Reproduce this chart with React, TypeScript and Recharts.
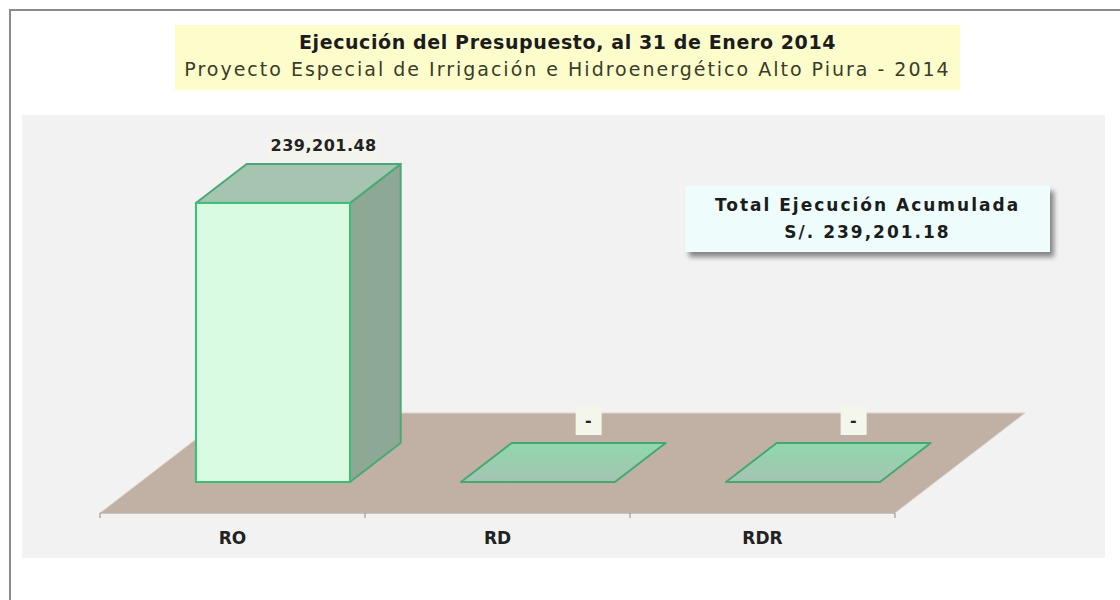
import React from 'react';
import { BarChart, Bar, XAxis, YAxis, LabelList, ReferenceArea } from 'recharts';

// budget execution by funding source
const categories = ['RO', 'RD', 'RDR'];
const executed = [239201.48, 0, 0];
const valueDomain = [0, 300000];

const title = 'Ejecución del Presupuesto, al 31 de Enero 2014';
const subtitle = 'Proyecto Especial de Irrigación e Hidroenergético Alto Piura - 2014';
const totalLines = ['Total Ejecución Acumulada', 'S/. 239,201.18'];

const data = categories.map((name, i) => ({ name, value: executed[i] }));

const FONT = '"DejaVu Sans", Verdana, sans-serif';
// 3D projection of the floor depth
const FLOOR_DX = 130;
const FLOOR_DY = 100;
const BAR_FRONT = 0.31;
const BAR_BACK = 0.7;

const fmt = (v: number) =>
  v === 0 ? '-' : v.toLocaleString('en-US', { minimumFractionDigits: 2, maximumFractionDigits: 2 });

const Floor = (props: any) => {
  const { x, y, width, height } = props;
  const yb = y + height;
  const n = categories.length;
  const pts = `${x},${yb} ${x + width},${yb} ${x + width + FLOOR_DX},${yb - FLOOR_DY} ${x + FLOOR_DX},${yb - FLOOR_DY}`;
  return (
    <g>
      <polygon points={pts} fill="#c1b1a4" stroke="#ddd5cc" strokeWidth={1} />
      <line x1={x} y1={yb} x2={x + width} y2={yb} stroke="#a9a29c" strokeWidth={1} />
      {Array.from({ length: n + 1 }).map((_, i) => (
        <line key={i} x1={x + (i * width) / n} y1={yb} x2={x + (i * width) / n} y2={yb + 5} stroke="#8c8c8c" strokeWidth={1} />
      ))}
    </g>
  );
};

const Bar3D = (props: any) => {
  const { x, y, width, height, index } = props;
  const fx = FLOOR_DX * BAR_FRONT;
  const fy = FLOOR_DY * BAR_FRONT;
  const dx = FLOOR_DX * (BAR_BACK - BAR_FRONT);
  const dy = FLOOR_DY * (BAR_BACK - BAR_FRONT);
  const x0 = x + fx;
  const x1 = x0 + width;
  const yt = y - fy;
  const yb = y + height - fy;
  const top = `${x0},${yt} ${x1},${yt} ${x1 + dx},${yt - dy} ${x0 + dx},${yt - dy}`;
  if (height < 1) {
    const gid = `flat-${index}`;
    return (
      <g>
        <defs>
          <linearGradient id={gid} x1="0" y1="0" x2="0" y2="1">
            <stop offset="0%" stopColor="#8fd8ac" />
            <stop offset="100%" stopColor="#a5c3b3" />
          </linearGradient>
        </defs>
        <polygon points={top} fill={`url(#${gid})`} stroke="#45a872" strokeWidth={2} strokeLinejoin="round" />
      </g>
    );
  }
  const side = `${x1},${yt} ${x1 + dx},${yt - dy} ${x1 + dx},${yb - dy} ${x1},${yb}`;
  return (
    <g>
      <polygon points={side} fill="#8da895" stroke="#4aa877" strokeWidth={2} strokeLinejoin="round" />
      <polygon points={top} fill="#a6c5b0" stroke="#4aa877" strokeWidth={2} strokeLinejoin="round" />
      <rect x={x0} y={yt} width={width} height={height} fill="#d9fbe1" stroke="#3bbd77" strokeWidth={2} />
    </g>
  );
};

const ValueLabel = (props: any) => {
  const { x, y, width, value } = props;
  const cx = x + width / 2 + FLOOR_DX * BAR_BACK;
  const cy = y - FLOOR_DY * BAR_BACK - (value === 0 ? 23 : 18);
  const text = fmt(value);
  const bw = value === 0 ? 26 : 112;
  return (
    <g>
      <rect x={cx - bw / 2} y={cy - 14} width={bw} height={29} fill="#f3f6ea" opacity={value === 0 ? 1 : 0.5} />
      <text x={cx} y={cy} textAnchor="middle" dominantBaseline="central" fontFamily={FONT} fontWeight="bold" fontSize={16} letterSpacing={0.5} fill="#222">
        {text}
      </text>
    </g>
  );
};

export default function App() {
  return (
    <div style={{ position: 'absolute', left: 0, top: 0, width: 1120, height: 600, background: '#fff', overflow: 'hidden', fontFamily: FONT }}>
      <div style={{ position: 'absolute', left: 9, top: 9, width: 1200, height: 700, borderLeft: '2px solid #8c8c8c', borderTop: '2px solid #8c8c8c' }} />
      <div style={{ position: 'absolute', left: 22, top: 115, width: 1083, height: 443, background: '#f2f2f2' }} />
      <div style={{ position: 'absolute', left: 175, top: 25, width: 785, height: 65, background: '#fdfdcc', textAlign: 'center', whiteSpace: 'nowrap' }}>
        <div style={{ marginTop: 6, fontSize: 19, lineHeight: '23px', letterSpacing: 0.6, fontWeight: 'bold', color: '#1c1c1c' }}>{title}</div>
        <div style={{ marginTop: 3, fontSize: 19, lineHeight: '24px', letterSpacing: 2, color: '#3b3b2a' }}>{subtitle}</div>
      </div>
      <div style={{ position: 'absolute', left: 0, top: 0 }}>
        <BarChart width={1120} height={600} data={data} margin={{ top: 163, right: 225, bottom: 57, left: 100 }} barCategoryGap="21%">
          <XAxis dataKey="name" axisLine={false} tickLine={false} tickSize={0} tickMargin={19} height={30}
            tick={{ fontFamily: FONT, fontWeight: 'bold', fontSize: 17, fill: '#222' }} />
          <YAxis hide domain={valueDomain} />
          <ReferenceArea x1="RO" x2="RDR" y1={valueDomain[0]} y2={valueDomain[1]} shape={Floor} fill="none" />
          <Bar dataKey="value" shape={Bar3D} isAnimationActive={false}>
            <LabelList dataKey="value" content={ValueLabel} />
          </Bar>
        </BarChart>
      </div>
      <div style={{ position: 'absolute', left: 685, top: 186, width: 365, height: 66, background: '#effcfc', boxShadow: '4px 5px 5px rgba(0,0,0,0.45)', textAlign: 'center', fontWeight: 'bold', fontSize: 17, letterSpacing: 2, lineHeight: '22px', color: '#1c1c1c', whiteSpace: 'nowrap' }}>
        <div style={{ marginTop: 8 }}>{totalLines[0]}</div>
        <div style={{ marginTop: 5 }}>{totalLines[1]}</div>
      </div>
    </div>
  );
}
